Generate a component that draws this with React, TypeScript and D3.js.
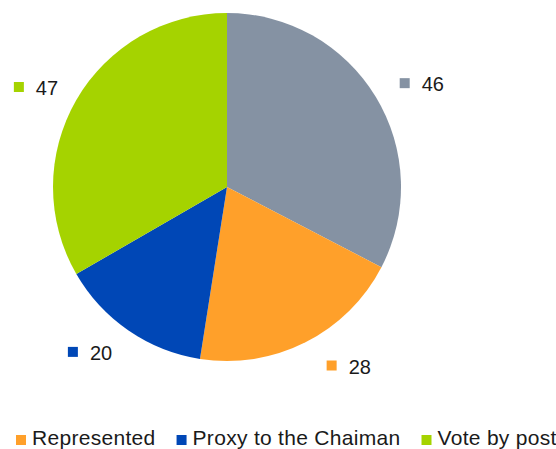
import React, { useEffect, useRef } from "react";
import * as d3 from "d3";

const categories = ["Present", "Represented", "Proxy to the Chaiman", "Vote by post"];
const values = [46, 28, 20, 47];
const colors = ["#8592a3", "#ffa02a", "#0047b6", "#a5d300"];
const legendItems = ["Represented", "Proxy to the Chaiman", "Vote by post"];

const W = 556;
const H = 449;

export default function App() {
  const ref = useRef<SVGSVGElement>(null);
  useEffect(() => {
    const svg = d3.select(ref.current);
    svg.selectAll("*").remove();
    const cx = 227, cy = 187, r = 174;
    const font = "'Liberation Sans', Arial, sans-serif";
    const data = categories.map((c, i) => ({ c, v: values[i], col: colors[i] }));
    const pie = d3.pie<any>().value((d: any) => d.v).sort(null);
    const arcs = pie(data);
    const arc = d3.arc<any>().innerRadius(0).outerRadius(r);
    const g = svg.append("g").attr("transform", `translate(${cx},${cy})`);
    g.selectAll("path").data(arcs).enter().append("path")
      .attr("d", arc as any).attr("fill", (d: any) => d.data.col);

    const R = r + 23;
    arcs.forEach((a: any) => {
      const mid = (a.startAngle + a.endAngle) / 2;
      const s = Math.sin(mid);
      const px = cx + R * s;
      const py = cy - (R + 3) * Math.cos(mid);
      const lg = svg.append("g");
      const t = lg.append("text").text(String(a.data.v))
        .attr("font-family", font).attr("font-size", 20).attr("fill", "#1a1a1a");
      const tw = (t.node() as SVGTextElement).getComputedTextLength();
      const bw = 10 + 12 + tw;
      const k = 1 - Math.abs(s);
      const x0 = s >= 0 ? px + 2 + 16 * k : px + 4 - 17 * k - bw;
      lg.append("rect").attr("x", x0).attr("y", py - 5).attr("width", 10).attr("height", 10)
        .attr("fill", a.data.col);
      t.attr("x", x0 + 22).attr("y", py + 8);
    });

    let x = 16;
    const ly = 440;
    legendItems.forEach((name) => {
      const i = categories.indexOf(name);
      svg.append("rect").attr("x", x).attr("y", ly - 5).attr("width", 10).attr("height", 10)
        .attr("fill", colors[i]);
      const t = svg.append("text").text(name).attr("x", x + 16).attr("y", ly + 5)
        .attr("font-family", font).attr("font-size", 21).attr("letter-spacing", 0.3)
        .attr("fill", "#1a1a1a");
      const tw = (t.node() as SVGTextElement).getComputedTextLength();
      x = x + 16 + tw + 21;
    });
  }, []);
  return (
    <svg ref={ref} width={W} height={H} style={{ position: "absolute", left: 0, top: 0, background: "#fff" }} />
  );
}
